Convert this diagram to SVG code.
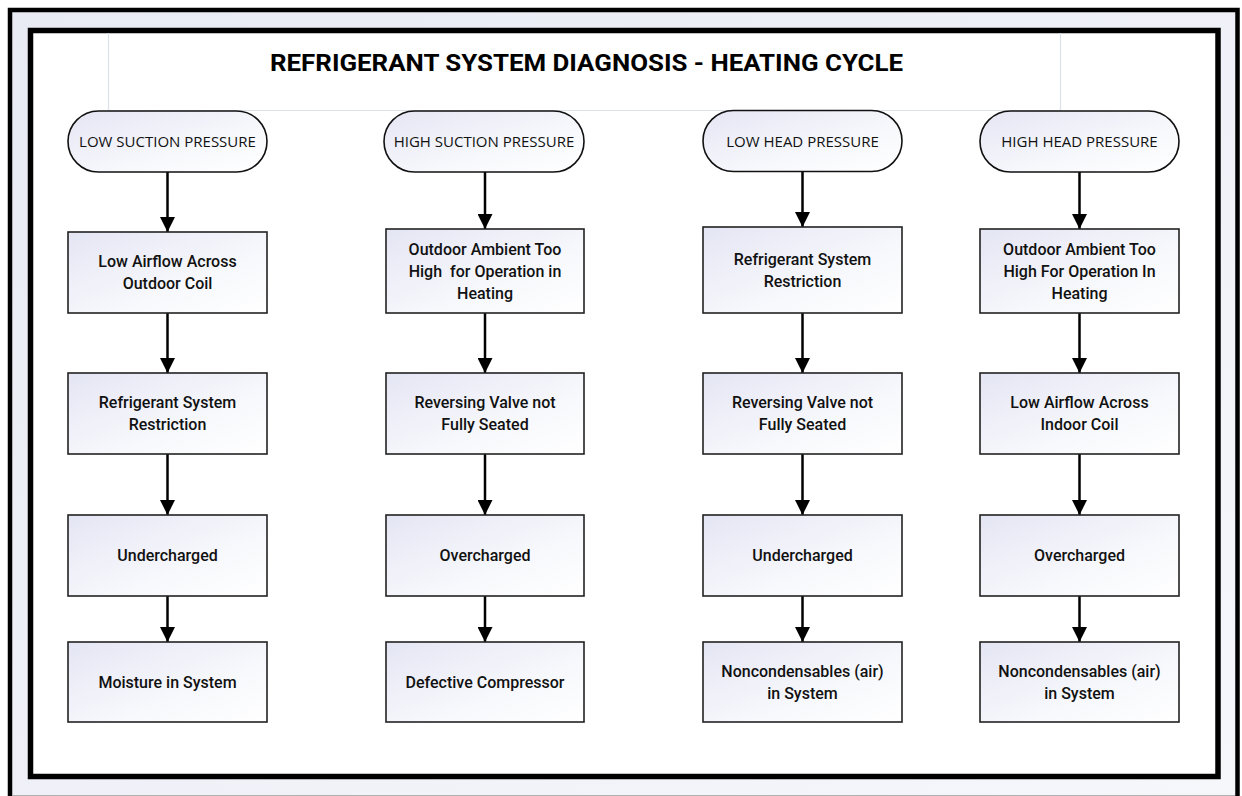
<svg xmlns="http://www.w3.org/2000/svg" width="1242" height="796" viewBox="0 0 1242 796">
<defs>
<linearGradient id="nodeFill" x1="0" y1="0" x2="1" y2="1">
<stop offset="0" stop-color="#e4e5f3"/>
<stop offset="0.6" stop-color="#f7f8fc"/>
<stop offset="1" stop-color="#ffffff"/>
</linearGradient>
<linearGradient id="frameFill" x1="0" y1="0" x2="1" y2="1">
<stop offset="0" stop-color="#e8eaf4"/>
<stop offset="1" stop-color="#f6f7fb"/>
</linearGradient>
<marker id="arrow" markerWidth="16" markerHeight="15" refX="16" refY="8" orient="auto" markerUnits="userSpaceOnUse" viewBox="0 0 16 16">
<path d="M0,0 L16,8 L0,16 Z" fill="#000"/>
</marker>
</defs>
<style>
.pill{fill:url(#nodeFill);stroke:#111;stroke-width:1.6}
.box{fill:url(#nodeFill);stroke:#222;stroke-width:1.6}
.pt{font-family:"Open Sans","Liberation Sans",sans-serif;font-size:15px;fill:#111;text-anchor:middle}
.bt{font-family:Roboto,"Liberation Sans",sans-serif;font-weight:500;font-size:16px;fill:#111;text-anchor:middle}
.title{font-family:Roboto,"Liberation Sans",sans-serif;font-weight:700;font-size:24px;fill:#000;text-anchor:middle}
.conn line{stroke:#000;stroke-width:2.5;marker-end:url(#arrow)}
</style>
<rect x="0" y="0" width="1242" height="796" fill="#ffffff"/>
<rect x="10" y="10" width="1227.5" height="800" fill="url(#frameFill)" stroke="#000" stroke-width="4.5"/>
<line x1="12" y1="795.5" x2="1235" y2="795.5" stroke="#b0b0b0" stroke-width="1"/>
<rect x="30.5" y="30.5" width="1187.5" height="746" fill="#ffffff" stroke="#000" stroke-width="5.5"/>
<path d="M108.5,33 V110.5 H1060.5 V33" fill="none" stroke="#dde1ec" stroke-width="1.2"/>
<text id="title" class="title" x="586.5" y="70.5" textLength="633" lengthAdjust="spacingAndGlyphs">REFRIGERANT SYSTEM DIAGNOSIS - HEATING CYCLE</text>

<g id="connectors" class="conn">
<line x1="167.5" y1="172" x2="167.5" y2="232"/>
<line x1="167.5" y1="313" x2="167.5" y2="373"/>
<line x1="167.5" y1="454" x2="167.5" y2="515"/>
<line x1="167.5" y1="596" x2="167.5" y2="642"/>
<line x1="485" y1="172" x2="485" y2="229"/>
<line x1="485" y1="313" x2="485" y2="373"/>
<line x1="485" y1="454" x2="485" y2="515"/>
<line x1="485" y1="596" x2="485" y2="642"/>
<line x1="802.5" y1="171" x2="802.5" y2="227"/>
<line x1="802.5" y1="313" x2="802.5" y2="373"/>
<line x1="802.5" y1="454" x2="802.5" y2="515"/>
<line x1="802.5" y1="596" x2="802.5" y2="642"/>
<line x1="1079.5" y1="172" x2="1079.5" y2="229"/>
<line x1="1079.5" y1="313" x2="1079.5" y2="373"/>
<line x1="1079.5" y1="454" x2="1079.5" y2="515"/>
<line x1="1079.5" y1="596" x2="1079.5" y2="642"/>
</g>

<g id="n-low-suction"><rect class="pill" x="68" y="111" width="199" height="61" rx="30.5"/><text class="pt" x="167.5" y="147">LOW SUCTION PRESSURE</text></g>
<g id="n-high-suction"><rect class="pill" x="384" y="111" width="200" height="61" rx="30.5"/><text class="pt" x="484" y="147">HIGH SUCTION PRESSURE</text></g>
<g id="n-low-head"><rect class="pill" x="703" y="110.5" width="199" height="61" rx="30.5"/><text class="pt" x="802.5" y="146.5">LOW HEAD PRESSURE</text></g>
<g id="n-high-head"><rect class="pill" x="980" y="111" width="199" height="61" rx="30.5"/><text class="pt" x="1079.5" y="147">HIGH HEAD PRESSURE</text></g>

<g id="c1r1"><rect class="box" x="68" y="232" width="199" height="81"/><text class="bt" x="167.5" y="267">Low Airflow Across</text><text class="bt" x="167.5" y="288.5">Outdoor Coil</text></g>
<g id="c1r2"><rect class="box" x="68" y="373" width="199" height="81"/><text class="bt" x="167.5" y="408">Refrigerant System</text><text class="bt" x="167.5" y="429.5">Restriction</text></g>
<g id="c1r3"><rect class="box" x="68" y="515" width="199" height="81"/><text class="bt" x="167.5" y="561">Undercharged</text></g>
<g id="c1r4"><rect class="box" x="68" y="642" width="199" height="80"/><text class="bt" x="167.5" y="688">Moisture in System</text></g>

<g id="c2r1"><rect class="box" x="386" y="229" width="198" height="84"/><text class="bt" x="485" y="255">Outdoor Ambient Too</text><text class="bt" x="485" y="277" xml:space="preserve">High  for Operation in</text><text class="bt" x="485" y="299">Heating</text></g>
<g id="c2r2"><rect class="box" x="386" y="373" width="198" height="81"/><text class="bt" x="485" y="408">Reversing Valve not</text><text class="bt" x="485" y="429.5">Fully Seated</text></g>
<g id="c2r3"><rect class="box" x="386" y="515" width="198" height="81"/><text class="bt" x="485" y="561">Overcharged</text></g>
<g id="c2r4"><rect class="box" x="386" y="642" width="198" height="80"/><text class="bt" x="485" y="688">Defective Compressor</text></g>

<g id="c3r1"><rect class="box" x="703" y="227" width="199" height="86"/><text class="bt" x="802.5" y="265">Refrigerant System</text><text class="bt" x="802.5" y="286.5">Restriction</text></g>
<g id="c3r2"><rect class="box" x="703" y="373" width="199" height="81"/><text class="bt" x="802.5" y="408">Reversing Valve not</text><text class="bt" x="802.5" y="429.5">Fully Seated</text></g>
<g id="c3r3"><rect class="box" x="703" y="515" width="199" height="81"/><text class="bt" x="802.5" y="561">Undercharged</text></g>
<g id="c3r4"><rect class="box" x="703" y="642" width="199" height="80"/><text class="bt" x="802.5" y="677">Noncondensables (air)</text><text class="bt" x="802.5" y="698.5">in System</text></g>

<g id="c4r1"><rect class="box" x="980" y="229" width="199" height="84"/><text class="bt" x="1079.5" y="255">Outdoor Ambient Too</text><text class="bt" x="1079.5" y="277">High For Operation In</text><text class="bt" x="1079.5" y="299">Heating</text></g>
<g id="c4r2"><rect class="box" x="980" y="373" width="199" height="81"/><text class="bt" x="1079.5" y="408">Low Airflow Across</text><text class="bt" x="1079.5" y="429.5">Indoor Coil</text></g>
<g id="c4r3"><rect class="box" x="980" y="515" width="199" height="81"/><text class="bt" x="1079.5" y="561">Overcharged</text></g>
<g id="c4r4"><rect class="box" x="980" y="642" width="199" height="80"/><text class="bt" x="1079.5" y="677">Noncondensables (air)</text><text class="bt" x="1079.5" y="698.5">in System</text></g>
</svg>
